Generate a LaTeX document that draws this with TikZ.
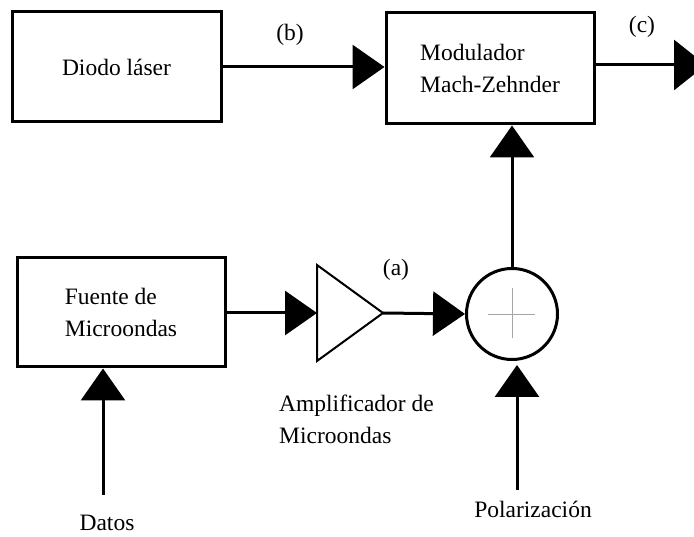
\documentclass[tikz,border=0pt]{standalone}
\usepackage{fontspec}
\setmainfont{Liberation Serif}
\usetikzlibrary{arrows.meta}
\begin{document}
\begin{tikzpicture}[x=1pt,y=-1pt,
  every node/.style={font=\fontsize{23.5}{32}\selectfont},
  block/.style={draw, line width=3pt, rectangle, inner sep=0pt},
  sig/.style={line width=3pt, -{Triangle[length=32pt,width=44pt]}},
  lbl/.style={inner sep=0pt}]
  \useasboundingbox (0,0) rectangle (694,537);

  % blocks
  \node[block, minimum width=209pt, minimum height=110pt] (diodo) at (116.5,67) {Diodo láser};
  \node[block, minimum width=208pt, minimum height=111pt, align=left] (mod) at (490,68.5) {Modulador\\Mach-Zehnder};
  \node[block, minimum width=208pt, minimum height=109pt, align=left] (fuente) at (121,312.5) {Fuente de\\Microondas};

  % amplifier triangle
  \coordinate (ampin) at (317,313);
  \coordinate (ampout) at (383,313);
  \draw[line width=2pt, line join=miter] (317,265) -- (ampout) -- (317,361) -- cycle;

  % summing junction
  \node[draw, circle, line width=3pt, minimum size=91pt, inner sep=0pt] (sum) at (512,314) {};
  \draw[gray!70, line width=0.8pt] ([xshift=-24pt]sum.center) -- ([xshift=23pt]sum.center);
  \draw[gray!70, line width=0.8pt] ([yshift=-24pt]sum.center) -- ([yshift=26pt]sum.center);

  % free ends
  \coordinate (ctip) at (706,65);
  \coordinate (datos) at (103,495);
  \coordinate (pol) at (517,490);

  % connectors
  \draw[sig] (diodo.east) -- (diodo.east -| mod.west);
  \draw[sig, -{Triangle[length=32pt,width=50pt]}] (mod.east |- ctip) -- (ctip);
  \draw[sig] (fuente.east |- ampin) -- (ampin);
  \draw[sig] (ampout) -- (sum.west);
  \draw[sig] (sum.north) -- (sum.north |- mod.south);
  \draw[sig] (datos) -- (datos |- fuente.south);
  \draw[sig, shorten >=4pt] (pol) -- (pol |- sum.south);

  % labels
  \node[lbl] (lb) at (290,35) {(b)};
  \node[lbl] (lc) at (642,27) {(c)};
  \node[lbl] (la) at (396,270) {(a)};
  \node[lbl, align=left, anchor=west] (lamp) at (279,419) {Amplificador de\\Microondas};
  \node[lbl] (ldatos) at (107,523) {Datos};
  \node[lbl] (lpol) at (533,509) {Polarización};
\end{tikzpicture}
\end{document}
